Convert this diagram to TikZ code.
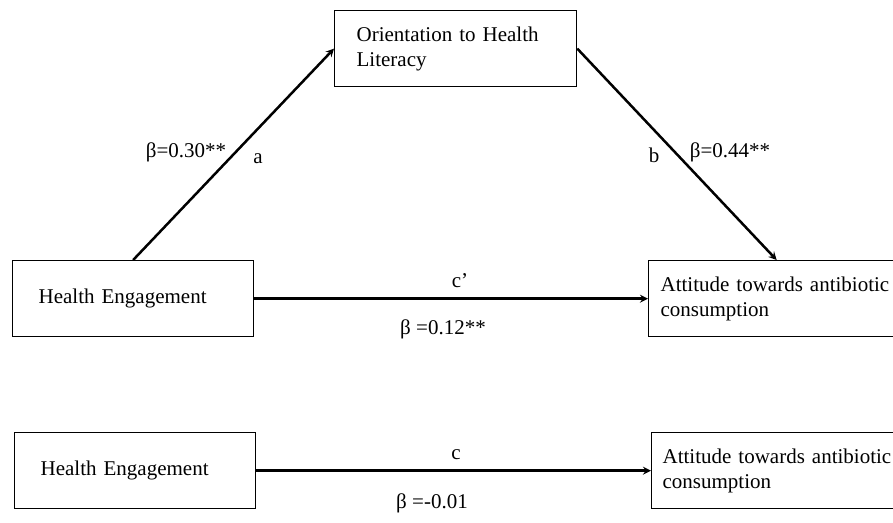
\documentclass[tikz,border=0pt]{standalone}
\usepackage{fontspec}
\setmainfont{Liberation Serif}
\usepackage{tikz}
\usetikzlibrary{arrows, positioning}

\begin{document}
\begin{tikzpicture}[
    x=1pt, y=-1pt,
    font=\fontsize{21}{25}\selectfont,
    box/.style = {rectangle, draw=black, line width=1.3pt, minimum height=76pt, align=left, anchor=north west, inner ysep=4pt},
    arrow/.style = {line width=2.5pt, ->, >=stealth},
    lbl/.style = {anchor=base, inner sep=0pt}
]
\useasboundingbox (0,0) rectangle (893,522);

% Nodes of the mediation model
\node (olit) [box, text width=198pt, inner xsep=22pt] at (334,10) {Orientation to Health\\Literacy};
\node (eng) [box, text width=189pt, inner xsep=26pt] at (12,260) {Health Engagement};
\node (att) [box, text width=232pt, inner xsep=12pt] at (648,260) {Attitude towards antibiotic\\consumption};

% Nodes of the total effect
\node (engtot) [box, text width=189pt, inner xsep=26pt] at (14,432) {Health Engagement};
\node (atttot) [box, text width=232pt, inner xsep=11pt] at (651,432) {Attitude towards antibiotic\\consumption};

% Arrows
\draw [arrow] (eng.north) -- (olit.west);
\draw [arrow] (olit.east) -- (att.north);
\draw [arrow] (eng.east) -- (att.west);
\draw [arrow] (engtot.east) -- (atttot.west);

% Labels
\node (betaa) [lbl] at (186,157) {β=0.30**};
\node (patha) [lbl] at (258,163) {a};
\node (pathb) [lbl] at (654,162) {b};
\node (betab) [lbl] at (730,157) {β=0.44**};
\node (pathcp) [lbl] at (460,287) {c’};
\node (betacp) [lbl] at (443,334) {β =0.12**};
\node (pathc) [lbl] at (456,459) {c};
\node (betac) [lbl] at (432,508) {β =-0.01};

\end{tikzpicture}
\end{document}
